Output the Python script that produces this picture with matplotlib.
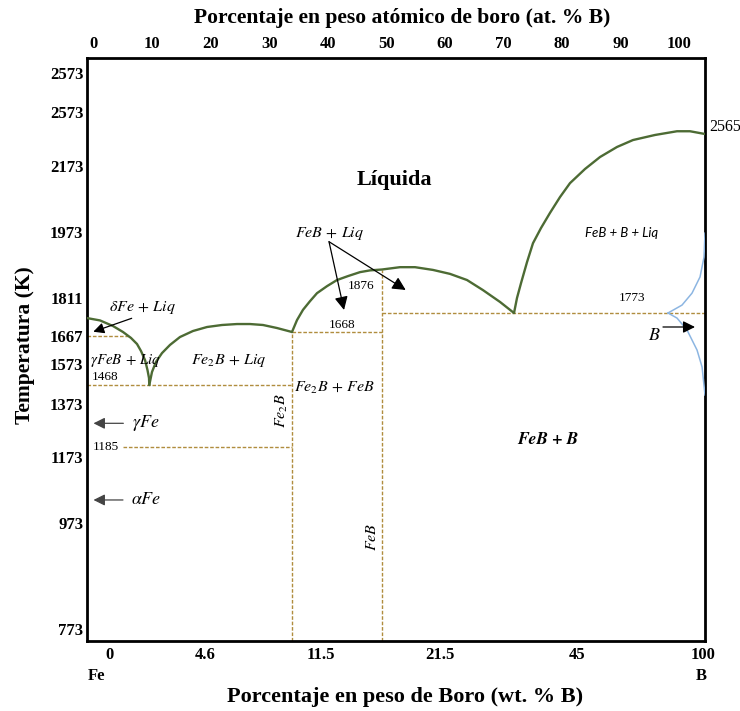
import numpy as np
import matplotlib
matplotlib.use("Agg")
import matplotlib.pyplot as plt

plt.rcParams['mathtext.fontset'] = 'stix'
plt.rcParams['font.family'] = ['Liberation Serif', 'DejaVu Serif']

# ---------------------------------------------------------------------------
# Temperature axis: schematic (non-linear) scale, knots in K -> axis position
scale_T = [500, 773, 973, 1173, 1185, 1373, 1468, 1573, 1667, 1668, 1773,
           1811, 1876, 1973, 2173, 2565, 2573, 2773, 3200]
scale_pos = [-132.7, 12, 118, 184, 194, 237, 256, 277, 305.5, 309, 328,
             343, 371.5, 409, 475, 507, 529, 568, 651.3]

# Temperature ticks and their printed labels
temp_ticks = [773, 973, 1173, 1373, 1573, 1667, 1811, 1973, 2173, 2573, 2773]
temp_tick_labels = ['773', '973', '1173', '1373', '1573', '1667', '1811',
                    '1973', '2173', '2573', '2573']

# Composition axes
at_ticks = [0, 10, 20, 30, 40, 50, 60, 70, 80, 90, 100]
wt_tick_at = [2.7, 19.0, 38.9, 59.2, 82.6, 104.1]
wt_tick_labels = ['0', '4.6', '11.5', '21.5', '45', '100']

# Compounds (at. % B)
x_fe2b = 33.90
x_feb = 49.28
x_min, x_max = -1.11, 104.44

# Invariant temperatures (K)
T_delta = 1667
T_eut1 = 1468
T_gamma = 1185
T_eut2 = 1668
T_feb = 1876
T_eut3 = 1773
T_b = 2565

# Liquidus, Fe-rich side
liq_fe_x = [-1.11, 1.11, 3.33, 5.04, 6.40, 7.43, 8.11, 8.80, 9.22, 9.48, 9.53]
liq_fe_T = [1745, 1732, 1701, 1668, 1659, 1639, 1616, 1586, 1543, 1503, 1468]

# Liquidus, Fe2B dome
liq_fe2b_x = [9.53, 9.99, 10.67, 11.70, 13.07, 14.77, 16.99, 19.39, 21.95,
              24.51, 26.73, 28.95, 31.34, 33.90]
liq_fe2b_T = [1468, 1533, 1580, 1609, 1636, 1662, 1673.5, 1695.6, 1706.7,
              1712, 1712, 1706.7, 1690, 1668]

# Liquidus, FeB dome
liq_feb_x = [33.90, 34.76, 35.78, 36.98, 38.17, 39.88, 41.59, 43.47, 45.52,
             47.23, 49.28, 52.35, 54.91, 57.99, 60.89, 63.79, 66.52, 69.43, 71.82]
liq_feb_T = [1668, 1734, 1781, 1803, 1822, 1838, 1852, 1861, 1870, 1874,
             1876, 1882, 1882, 1875, 1866, 1852, 1829, 1801, 1773]

# Liquidus, B-rich side
liq_b_x = [71.82, 72.33, 73.02, 74.04, 75.06, 76.43, 77.97, 79.68, 81.38,
           83.95, 86.51, 89.41, 92.14, 95.90, 99.66, 101.88, 104.44]
liq_b_T = [1773, 1811, 1845, 1895, 1944, 1985, 2031, 2079, 2121, 2164,
           2283, 2406, 2491, 2553, 2566, 2566, 2565]

# Boron solid-solution boundary
bss_up_x = [104.44, 104.27, 103.59, 102.22, 100.51, 98.12]
bss_up_T = [1970, 1908, 1859, 1822, 1793, 1773]
bss_lo_x = [98.12, 99.66, 101.37, 103.08, 103.94, 104.44]
bss_lo_T = [1773, 1745, 1679, 1619, 1558, 1418]

# ---------------------------------------------------------------------------
GREEN = '#4d6b34'
GOLD = '#b08d3e'
BLUE = '#8db6e2'
DASH = (0, (2.6, 1.3))


def fwd(T):
    return np.interp(T, scale_T, scale_pos)


def inv(p):
    return np.interp(p, scale_pos, scale_T)


fig = plt.figure(figsize=(7.40, 7.11), dpi=100)
ax = fig.add_axes([87 / 740, 70 / 711, 618 / 740, 583 / 711])
ax.set_yscale('function', functions=(fwd, inv))
ax.set_xlim(x_min, x_max)
ax.set_ylim(inv(0), inv(583))

for s in ax.spines.values():
    s.set_linewidth(2.0)
    s.set_color('black')

ax.set_yticks(temp_ticks)
ax.set_yticklabels(temp_tick_labels)
ax.yaxis.set_minor_locator(matplotlib.ticker.NullLocator())
ax.tick_params(axis='y', length=0, pad=2.5, labelsize=12)
ax.set_xticks(wt_tick_at)
ax.set_xticklabels(wt_tick_labels)
ax.tick_params(axis='x', length=0, pad=4.5, labelsize=12)
for lab in ax.get_xticklabels() + ax.get_yticklabels():
    lab.set_fontweight('bold')

top = ax.secondary_xaxis('top')
top.set_xticks(at_ticks)
top.tick_params(length=0, pad=4, labelsize=12)
for lab in top.get_xticklabels():
    lab.set_fontweight('bold')
top.spines['top'].set_visible(False)

# liquidus curves
for xs, ts in [(liq_fe_x, liq_fe_T), (liq_fe2b_x, liq_fe2b_T),
               (liq_feb_x, liq_feb_T), (liq_b_x, liq_b_T)]:
    ax.plot(xs, ts, color=GREEN, lw=1.7, solid_capstyle='round',
            solid_joinstyle='round', zorder=3)
ax.plot(bss_up_x, bss_up_T, color=BLUE, lw=1.1, zorder=3)
ax.plot(bss_lo_x, bss_lo_T, color=BLUE, lw=1.1, zorder=3)

# invariant lines and compound lines
ylo = inv(0)
dkw = dict(color=GOLD, lw=1.0, linestyle=DASH, zorder=2)
ax.plot([x_min, 6.23], [T_delta, T_delta], **dkw)
ax.plot([x_min, x_fe2b], [T_eut1, T_eut1], **dkw)
ax.plot([5.04, x_fe2b], [T_gamma, T_gamma], **dkw)
ax.plot([x_fe2b, x_feb], [T_eut2, T_eut2], **dkw)
ax.plot([x_feb, x_max], [T_eut3, T_eut3], **dkw)
ax.plot([x_fe2b, x_fe2b], [ylo, T_eut2], **dkw)
ax.plot([x_feb, x_feb], [ylo, T_feb], **dkw)

# temperature labels
nkw = dict(textcoords='offset points', fontsize=9.5, ha='center', va='center',
           annotation_clip=False)
ax.annotate(str(T_eut1), xy=(1.96, T_eut1), xytext=(0, 5.8), **nkw)
ax.annotate(str(T_gamma), xy=(2.13, T_gamma), xytext=(0, 0), **nkw)
ax.annotate(str(T_eut2), xy=(42.44, T_eut2), xytext=(0, 5.0), **nkw)
ax.annotate(str(T_feb), xy=(45.69, T_feb), xytext=(0, -11.9), **nkw)
ax.annotate(str(T_eut3), xy=(91.97, T_eut3), xytext=(0, 10.8), **nkw)
ax.annotate(str(T_b), xy=(x_max, T_b), xytext=(3, 5.0),
            textcoords='offset points', fontsize=11.5, ha='left',
            va='center', annotation_clip=False)

# phase-field labels
tf = ax.transAxes
mkw = dict(transform=tf, ha='center', va='center', fontsize=11.5)
ax.text(0.4968, 0.7907, 'Líquida', transform=tf, ha='center', va='center',
        fontsize=16, fontweight='bold')
ax.text(0.3932, 0.6998, r'$FeB\,+\,Liq$', **mkw)
ax.text(0.0890, 0.5712, r'$\delta Fe\,+\,Liq$', **mkw)
ax.text(0.0630, 0.4803, r'$\gamma FeB\,+\,Liq$', transform=tf, ha='center',
        va='center', fontsize=10.8)
ax.text(0.2290, 0.4803, r'$Fe_2B\,+\,Liq$', **mkw)
ax.text(0.3997, 0.4340, r'$Fe_2B\,+\,FeB$', **mkw)
ax.text(0.3151, 0.3945, r'$Fe_2B$', rotation=90, **mkw)
ax.text(0.0947, 0.3744, r'$\gamma Fe$', transform=tf, ha='center',
        va='center', fontsize=13)
ax.text(0.0962, 0.2419, r'$\alpha Fe$', transform=tf, ha='center',
        va='center', fontsize=13)
ax.text(0.7460, 0.3448, 'FeB + B', transform=tf, ha='center', va='center',
        fontsize=12.5, family='STIXGeneral', style='italic', fontweight='bold')
ax.text(0.4612, 0.1784, r'$FeB$', rotation=90, **mkw)
ax.text(0.8657, 0.6998, 'FeB + B + Liq', transform=tf, ha='center',
        va='center', fontsize=9.5, family='Lato', style='italic')
ax.text(0.9175, 0.5232, r'$B$', transform=tf, ha='center', va='center',
        fontsize=13)

# arrows
def arrow(tail, tip, ms=14, shaft='black'):
    ax.annotate('', xy=tip, xytext=tail, xycoords='axes fraction',
                textcoords='axes fraction',
                arrowprops=dict(arrowstyle='-|>', color=shaft, lw=0.9,
                                mutation_scale=ms, shrinkA=0, shrinkB=0,
                                facecolor='black'))

arrow((0.0723, 0.5535), (0.0102, 0.5305), ms=16)
arrow((0.0588, 0.3734), (0.0105, 0.3734), ms=17, shaft='#444444')
arrow((0.0582, 0.2419), (0.0105, 0.2419), ms=17, shaft='#444444')
arrow((0.3916, 0.6849), (0.4159, 0.5678), ms=20)
arrow((0.3916, 0.6849), (0.5157, 0.6021), ms=20)
arrow((0.9320, 0.5386), (0.9838, 0.5386), ms=18)

# axis titles
fig.text(0.5432, 0.9747, 'Porcentaje en peso atómico de boro (at. % B)',
         ha='center', va='center', fontsize=15.6, fontweight='bold')
fig.text(0.5473, 0.0197, 'Porcentaje en peso de Boro (wt. % B)',
         ha='center', va='center', fontsize=16, fontweight='bold')
fig.text(0.0338, 0.5148, 'Temperatura (K)', rotation=90, ha='center',
         va='center', fontsize=15.5, fontweight='bold')
fig.text(97 / 740, (711 - 676) / 711, 'Fe', ha='center', va='center',
         fontsize=12, fontweight='bold')
fig.text(701 / 740, (711 - 676) / 711, 'B', ha='center', va='center',
         fontsize=12, fontweight='bold')

fig.savefig('out.png', dpi=100)
